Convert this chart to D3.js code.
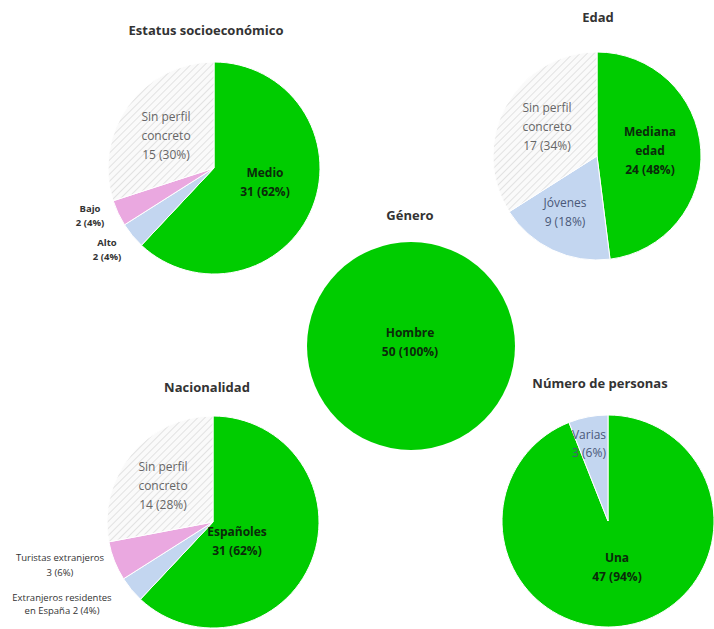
<!DOCTYPE html>
<html><head><meta charset="utf-8">
<script src="https://cdn.jsdelivr.net/npm/d3@7"></script>
<style>body{margin:0;background:#fff}svg{display:block}text{font-family:"Open Sans",Lato,sans-serif}</style>
</head><body><svg id="c" width="714" height="629"></svg>
<script>
// Data
const estatusCats = ["Medio","Alto","Bajo","Sin perfil concreto"];
const estatusVals = [31,2,2,15];
const edadCats = ["Mediana edad","Jóvenes","Sin perfil concreto"];
const edadVals = [24,9,17];
const generoCats = ["Hombre"];
const generoVals = [50];
const nacionCats = ["Españoles","Extranjeros residentes en España","Turistas extranjeros","Sin perfil concreto"];
const nacionVals = [31,2,3,14];
const numeroCats = ["Una","Varias"];
const numeroVals = [47,3];

const colorMap = {
  "Medio":"#00cc00","Mediana edad":"#00cc00","Hombre":"#00cc00","Españoles":"#00cc00","Una":"#00cc00",
  "Alto":"#c3d6f0","Jóvenes":"#c3d6f0","Extranjeros residentes en España":"#c3d6f0","Varias":"#c3d6f0",
  "Bajo":"#eaa8e0","Turistas extranjeros":"#eaa8e0",
  "Sin perfil concreto":"url(#hatch)"
};

const svg = d3.select("#c");
const defs = svg.append("defs");
const pat = defs.append("pattern").attr("id","hatch").attr("patternUnits","userSpaceOnUse")
  .attr("width",5).attr("height",5).attr("patternTransform","rotate(45)");
pat.append("rect").attr("width",5).attr("height",5).attr("fill","#fafafa");
pat.append("line").attr("x1",0).attr("y1",0).attr("x2",0).attr("y2",5).attr("stroke","#d2d2d2").attr("stroke-width",1.2);

const pies = [
  {title:"Estatus socioeconómico", cats:estatusCats, vals:estatusVals, cx:214, cy:168, r:106, tx:206, ty:35,
   labels:[
     {lines:["Medio","31 (62%)"], x:265, y:177, bold:true, size:12, color:"#0b2a0b", lh:19},
     {lines:["Sin perfil","concreto","15 (30%)"], x:166, y:121, bold:false, size:12, color:"#666", lh:19},
     {lines:["Bajo","2 (4%)"], x:90, y:212, bold:true, size:9.5, color:"#333", lh:14},
     {lines:["Alto","2 (4%)"], x:107, y:246, bold:true, size:9.5, color:"#333", lh:14}
   ]},
  {title:"Edad", cats:edadCats, vals:edadVals, cx:597, cy:156, r:104, tx:598, ty:22,
   labels:[
     {lines:["Mediana","edad","24 (48%)"], x:650, y:136, bold:true, size:12, color:"#0b2a0b", lh:19},
     {lines:["Jóvenes","9 (18%)"], x:565, y:207, bold:false, size:12, color:"#4a5878", lh:19},
     {lines:["Sin perfil","concreto","17 (34%)"], x:547, y:112, bold:false, size:12, color:"#666", lh:19}
   ]},
  {title:"Género", cats:generoCats, vals:generoVals, cx:411, cy:346, r:104, tx:410, ty:220,
   labels:[{lines:["Hombre","50 (100%)"], x:410, y:337, bold:true, size:12, color:"#0b2a0b", lh:19}]},
  {title:"Nacionalidad", cats:nacionCats, vals:nacionVals, cx:213, cy:522, r:106, tx:207, ty:392,
   labels:[
     {lines:["Españoles","31 (62%)"], x:237, y:536, bold:true, size:12, color:"#0b2a0b", lh:19},
     {lines:["Extranjeros residentes","en España  2 (4%)"], x:62, y:601, bold:false, size:9.5, color:"#333", lh:13},
     {lines:["Turistas extranjeros","3 (6%)"], x:60, y:561, bold:false, size:9.5, color:"#333", lh:15},
     {lines:["Sin perfil","concreto","14 (28%)"], x:163, y:471, bold:false, size:12, color:"#666", lh:19}
   ]},
  {title:"Número de personas", cats:numeroCats, vals:numeroVals, cx:608, cy:521, r:106, tx:600, ty:388,
   labels:[
     {lines:["Una","47 (94%)"], x:617, y:562, bold:true, size:12, color:"#0b2a0b", lh:19},
     {lines:["Varias","3 (6%)"], x:589, y:439, bold:false, size:12, color:"#4a5878", lh:18}
   ]}
];

pies.forEach(p => {
  const g = svg.append("g").attr("transform",`translate(${p.cx},${p.cy})`);
  const data = p.cats.map((c,i)=>({cat:c, val:p.vals[i]}));
  const pie = d3.pie().sort(null).value(d=>d.val);
  const arc = d3.arc().innerRadius(0).outerRadius(p.r);
  g.selectAll("path").data(pie(data)).join("path")
    .attr("d",arc).attr("fill",d=>colorMap[d.data.cat])
    .attr("stroke","#fff").attr("stroke-width", p.vals.length>1?1:0);
  svg.append("text").attr("x",p.tx).attr("y",p.ty).attr("text-anchor","middle")
    .attr("font-size",13).attr("font-weight","bold").attr("fill","#333").text(p.title);
  p.labels.forEach(l => {
    const t = svg.append("text").attr("text-anchor","middle").attr("font-size",l.size)
      .attr("font-weight",l.bold?"bold":"normal").attr("fill",l.color);
    l.lines.forEach((s,i)=>{
      t.append("tspan").attr("x",l.x).attr("y",l.y + i*l.lh).text(s);
    });
  });
});
</script></body></html>
